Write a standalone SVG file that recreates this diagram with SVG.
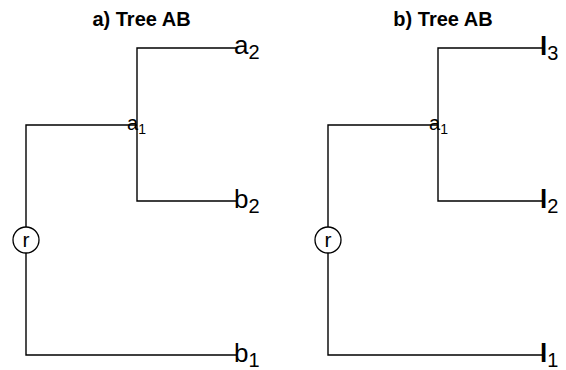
<svg xmlns="http://www.w3.org/2000/svg" width="566" height="370" viewBox="0 0 566 370">
<style>
  .title { font-family: "Liberation Sans", Arial, sans-serif; font-weight: bold; font-size: 20px; fill: #000; text-anchor: middle; }
  .lbl { font-family: "Liberation Sans", Arial, sans-serif; font-size: 26px; fill: #000; }
  .leafb { font-family: "Liberation Sans", Arial, sans-serif; font-size: 26px; font-weight: bold; fill: #000; }
  .sub { font-size: 20px; font-weight: normal; }
  .small { font-family: "Liberation Sans", Arial, sans-serif; font-size: 20px; fill: #000; }
  .ssub { font-size: 14px; }
  .edge { fill: none; stroke: #000; stroke-width: 1.4; }
  .node { fill: #fff; stroke: #000; stroke-width: 1.3; }
  .rt { font-family: "Liberation Sans", Arial, sans-serif; font-size: 21px; fill: #000; text-anchor: middle; }
</style>
<rect width="566" height="370" fill="#fff"/>
<g id="titles">
  <text class="title" x="141.5" y="26">a) Tree AB</text>
  <text class="title" x="443" y="26">b) Tree AB</text>
</g>
<g id="connectors">
  <path class="edge" d="M26,227 V125 H137"/>
  <path class="edge" d="M26,253 V355 H237"/>
  <path class="edge" d="M237,48 H137 V201 H237"/>
  <path class="edge" d="M328,227 V125 H438"/>
  <path class="edge" d="M328,253 V355 H543"/>
  <path class="edge" d="M543,48 H438 V201 H543"/>
</g>
<g id="a-r">
  <circle class="node" cx="26" cy="240" r="13"/>
  <text class="rt" x="26" y="247">r</text>
</g>
<g id="a-a1"><text class="small" x="127" y="130">a<tspan class="ssub" dy="4">1</tspan></text></g>
<g id="a-a2"><text class="lbl" x="234" y="54">a<tspan class="sub" dy="5">2</tspan></text></g>
<g id="a-b2"><text class="lbl" x="234" y="208">b<tspan class="sub" dy="5">2</tspan></text></g>
<g id="a-b1"><text class="lbl" x="234" y="362">b<tspan class="sub" dy="5">1</tspan></text></g>
<g id="b-r">
  <circle class="node" cx="328" cy="240" r="13"/>
  <text class="rt" x="328" y="247">r</text>
</g>
<g id="b-a1"><text class="small" x="429" y="130">a<tspan class="ssub" dy="4">1</tspan></text></g>
<g id="b-l3"><text class="leafb" x="540" y="55">l<tspan class="sub" dy="5">3</tspan></text></g>
<g id="b-l2"><text class="leafb" x="540" y="208">l<tspan class="sub" dy="5">2</tspan></text></g>
<g id="b-l1"><text class="leafb" x="540" y="362">l<tspan class="sub" dy="5">1</tspan></text></g>
</svg>
